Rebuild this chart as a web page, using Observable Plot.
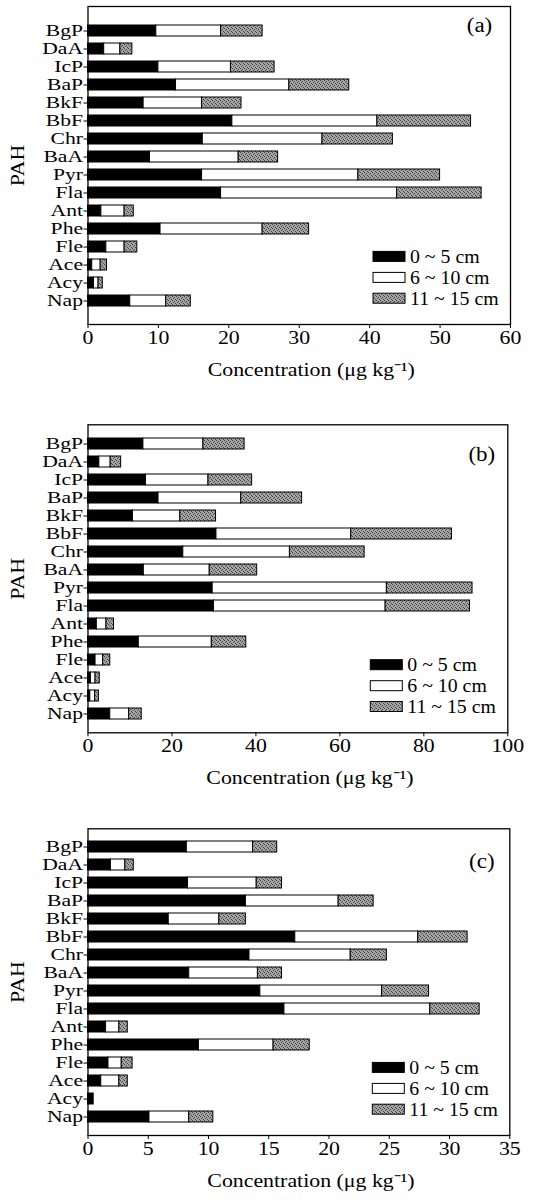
<!DOCTYPE html>
<html><head><meta charset="utf-8">
<script src="https://cdn.jsdelivr.net/npm/d3@7"></script>
<script src="https://cdn.jsdelivr.net/npm/@observablehq/plot@0.6"></script>
<style>
body{margin:0;background:#fff;}
#chart svg{display:block;}
</style></head><body>
<svg width="0" height="0" style="position:absolute">
  <defs>
    <pattern id="stipple" width="4" height="4" patternUnits="userSpaceOnUse">
      <rect width="4" height="4" fill="#a6a6a6"></rect>
      <rect x="0" y="0" width="1" height="1" fill="#3c3c3c"></rect>
      <rect x="2" y="1" width="1" height="1" fill="#3c3c3c"></rect>
      <rect x="1" y="2" width="1" height="1" fill="#555"></rect>
      <rect x="3" y="3" width="1" height="1" fill="#3c3c3c"></rect>
    </pattern>
  </defs>
</svg>
<div id="chart"></div>
<script>
const pahs = ["BgP","DaA","IcP","BaP","BkF","BbF","Chr","BaA","Pyr","Fla","Ant","Phe","Fle","Ace","Acy","Nap"];
const depths = ["0~5 cm","6~10 cm","11~15 cm"];
const legendLabels = ["0 ~ 5 cm","6 ~ 10 cm","11 ~ 15 cm"];
const xLabel = "Concentration (μg kg⁻¹)";

// Panel (a)
const a_0_5   = [9.7, 2.3, 10.0, 12.5, 7.9, 20.5, 16.3, 8.8, 16.2, 18.9, 1.9, 10.3, 2.6, 0.6, 0.85, 6.0];
const a_6_10  = [9.2, 2.3, 10.3, 16.1, 8.3, 20.6, 17.0, 12.6, 22.2, 25.0, 3.3, 14.5, 2.6, 1.2, 0.65, 5.1];
const a_11_15 = [5.9, 1.7, 6.2, 8.5, 5.6, 13.3, 10.0, 5.6, 11.6, 12.0, 1.3, 6.6, 1.8, 0.9, 0.6, 3.5];
const ticksA = [0, 10, 20, 30, 40, 50, 60];

// Panel (b)
const b_0_5   = [13.2, 2.7, 13.8, 16.8, 10.7, 30.6, 22.7, 13.3, 29.7, 30.0, 2.1, 12.1, 1.8, 0.7, 0.55, 5.3];
const b_6_10  = [14.3, 2.7, 14.9, 19.7, 11.3, 32.1, 25.4, 15.7, 41.5, 40.9, 2.3, 17.4, 1.8, 1.1, 1.15, 4.5];
const b_11_15 = [9.8, 2.5, 10.4, 14.5, 8.5, 24.0, 17.8, 11.3, 20.4, 20.1, 1.8, 8.2, 1.7, 1.0, 0.9, 3.0];
const ticksB = [0, 20, 40, 60, 80, 100];

// Panel (c)
const c_0_5   = [8.2, 1.9, 8.3, 13.1, 6.7, 17.2, 13.4, 8.4, 14.3, 16.3, 1.5, 9.2, 1.7, 1.1, 0.47, 5.1];
const c_6_10  = [5.5, 1.2, 5.7, 7.7, 4.2, 10.2, 8.4, 5.7, 10.1, 12.1, 1.1, 6.2, 1.1, 1.5, 0, 3.3];
const c_11_15 = [2.0, 0.7, 2.1, 2.9, 2.2, 4.1, 3.0, 2.0, 3.9, 4.1, 0.7, 3.0, 0.9, 0.7, 0, 2.0];
const ticksC = [0, 5, 10, 15, 20, 25, 30, 35];

const FONT = "Liberation Serif, Times New Roman, serif";
const fills = ["black", "white", "url(#stipple)"];

function panel(o) {
  const data = [];
  pahs.forEach((p, i) => o.series.forEach((s, j) => data.push({pah: p, depth: depths[j], value: s[i]})));
  const svg = Plot.plot({
    width: 541, height: o.height,
    marginTop: o.mt, marginBottom: o.mb, marginLeft: 87.5, marginRight: o.mr,
    style: {fontFamily: FONT, fontSize: "19px", color: "black", background: "white", overflow: "visible"},
    x: {domain: [0, o.xMax], label: null},
    y: {domain: pahs, paddingInner: 0.4, paddingOuter: 0.7, label: null},
    color: {domain: depths, range: fills},
    marks: [
      Plot.barX(data, {y: "pah", x: "value", fill: "depth", stroke: "black", strokeWidth: 1}),
      Plot.frame({stroke: "black", strokeWidth: 1.3}),
      Plot.axisX({ticks: o.ticks, tickSize: 4, tickPadding: 2, fontSize: 19, label: null}),
      Plot.axisY({tickSize: 4, tickPadding: 1, fontSize: 16, label: null}),
      Plot.text([o.name], {frameAnchor: "top-right", dx: o.nameDx, dy: o.nameDy, textAnchor: "middle", lineAnchor: "middle", fontSize: 20}),
      Plot.text(["PAH"], {frameAnchor: "left", dx: -70, rotate: -90, textAnchor: "middle", lineAnchor: "middle", fontSize: 19}),
      Plot.text([xLabel], {frameAnchor: "bottom", dx: 12, dy: 45, textAnchor: "middle", lineAnchor: "middle", fontSize: 19})
    ]
  });
  // legend inside the frame
  const right = 541 - o.mr, bottom = o.height - o.mb;
  const g = d3.select(svg).append("g").attr("font-family", FONT).attr("font-size", 18).attr("text-anchor", "start");
  const offs = [67.6, 46.6, 25.8];
  depths.forEach((d, j) => {
    const cy = bottom - offs[j];
    g.append("rect").attr("x", right - 137).attr("y", cy - 5).attr("width", 32).attr("height", 10)
      .attr("fill", fills[j]).attr("stroke", "black").attr("stroke-width", 1);
    g.append("text").attr("class", "leg").attr("x", right - 100).attr("y", cy).attr("dy", "0.35em").text(legendLabels[j]);
  });
  return svg;
}

const chart = document.getElementById("chart");
chart.append(panel({name: "(a)", series: [a_0_5, a_6_10, a_11_15], ticks: ticksA, xMax: 60,
  height: 400, mt: 6, mb: 76, mr: 31, nameDx: -31, nameDy: 19}));
chart.append(panel({name: "(b)", series: [b_0_5, b_6_10, b_11_15], ticks: ticksB, xMax: 100,
  height: 400, mt: 24.3, mb: 67.7, mr: 33.7, nameDx: -26, nameDy: 30}));
chart.append(panel({name: "(c)", series: [c_0_5, c_6_10, c_11_15], ticks: ticksC, xMax: 35,
  height: 400, mt: 28.3, mb: 65, mr: 31.7, nameDx: -28, nameDy: 33}));

// widen glyphs a little, as in the reference typesetting
document.querySelectorAll("#chart svg text").forEach(t => {
  if (t.querySelector("tspan")) return;
  const isY = !!t.closest('[aria-label^="y-axis"]');
  const isLeg = t.classList.contains("leg");
  const f = isY ? 1.35 : isLeg ? 1.1 : 1.15;
  const L = t.getComputedTextLength();
  if (L > 0) {
    t.setAttribute("textLength", (L * f).toFixed(1));
    t.setAttribute("lengthAdjust", "spacingAndGlyphs");
  }
});
</script>
</body></html>
